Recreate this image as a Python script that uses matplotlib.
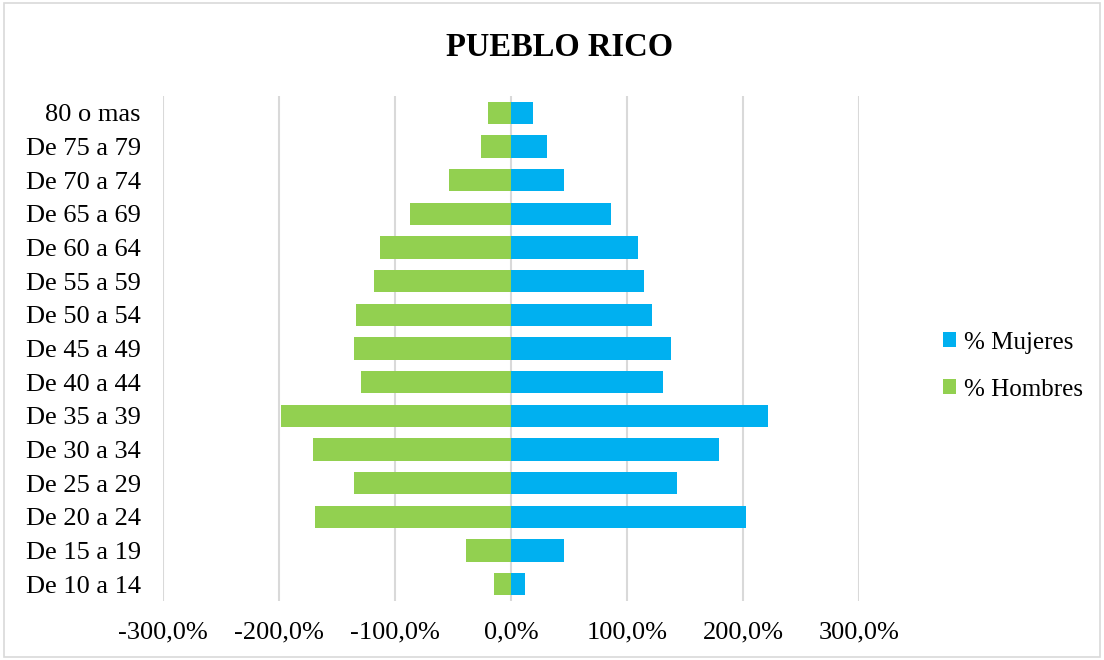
import matplotlib.pyplot as plt
import matplotlib.patches as patches
import numpy as np

# Age groups, top to bottom as in the chart
grupos = ["80 o mas", "De 75 a 79", "De 70 a 74", "De 65 a 69", "De 60 a 64",
          "De 55 a 59", "De 50 a 54", "De 45 a 49", "De 40 a 44", "De 35 a 39",
          "De 30 a 34", "De 25 a 29", "De 20 a 24", "De 15 a 19", "De 10 a 14"]

# Percent values
mujeres = [19.3, 31.0, 45.4, 86.0, 109.8, 114.4, 121.6, 138.3, 131.4, 221.6,
           179.0, 143.1, 202.6, 45.4, 12.1]
hombres = [20.1, 25.9, 53.7, 87.0, 113.0, 118.4, 133.6, 135.3, 129.6, 198.3,
           170.3, 135.3, 168.6, 38.8, 14.7]

ticks = [-300, -200, -100, 0, 100, 200, 300]
tick_labels = ["-300,0%", "-200,0%", "-100,0%", "0,0%", "100,0%", "200,0%", "300,0%"]

BLUE = "#00B0F0"
GREEN = "#92D050"
GRID = "#D9D9D9"

plt.rcParams['font.family'] = ['Liberation Serif', 'DejaVu Serif']

fig = plt.figure(figsize=(11.04, 6.6), dpi=100)
W, H = 1104, 660
# plot area in pixels: x 163..859, y 96..601
ax = fig.add_axes([163 / W, 1 - 601 / H, (859 - 163) / W, (601 - 96) / H])

y = np.arange(len(grupos))
ax.barh(y, mujeres, height=0.66, color=BLUE, label="% Mujeres", zorder=3)
ax.barh(y, -np.array(hombres), height=0.66, color=GREEN, label="% Hombres", zorder=3)

ax.set_xlim(-300, 300)
ax.set_ylim(len(grupos) - 0.5, -0.5)
ax.set_yticks(y)
ax.set_yticklabels(grupos, fontsize=19)
ax.set_xticks(ticks)
ax.set_xticklabels(tick_labels, fontsize=19)
ax.tick_params(axis='both', length=0)
ax.tick_params(axis='x', pad=15)
ax.tick_params(axis='y', pad=16)

for s in ax.spines.values():
    s.set_visible(False)
ax.xaxis.grid(True, color=GRID, linewidth=1.5, zorder=0)
ax.set_axisbelow(True)

fig.text(560 / W, 1 - 48 / H, "PUEBLO RICO", ha='center', va='center',
         fontsize=23.5, fontweight='bold')

handles, labels = ax.get_legend_handles_labels()
fig.legend(handles, labels, loc='center left', bbox_to_anchor=(925 / W, 1 - 366 / H),
           frameon=False, fontsize=18, handlelength=0.55, handleheight=0.55,
           handletextpad=0.3, labelspacing=1.0, borderpad=0.2)

# thin light border around the whole chart
fig.patches.append(patches.Rectangle((0.004, 0.004), 0.992, 0.992, transform=fig.transFigure,
                                     fill=False, edgecolor=GRID, linewidth=1.2))

fig.savefig("out.png", dpi=100)
